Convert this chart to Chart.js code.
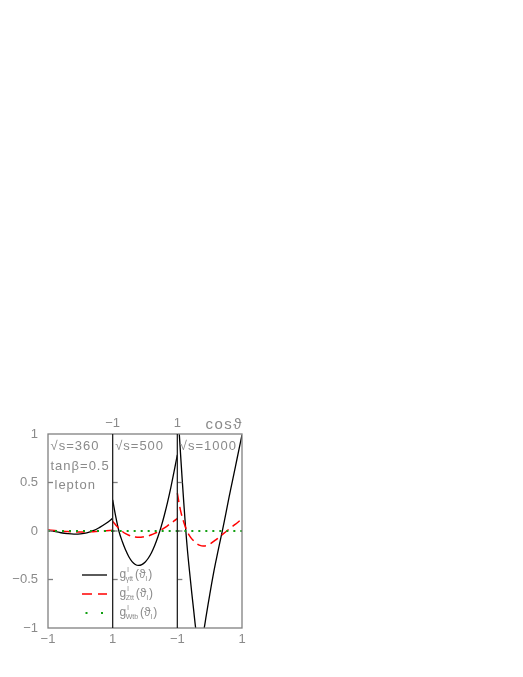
<!DOCTYPE html>
<html>
<head>
<meta charset="utf-8">
<script src="https://cdn.jsdelivr.net/npm/chart.js@4.4.1/dist/chart.umd.min.js"></script>
<style>
  html, body { margin: 0; padding: 0; background: #fff; }
  canvas { display: block; }
</style>
</head>
<body>
<canvas id="chart" width="523" height="677"></canvas>
<script>
// cos(theta) grids
const COS_COARSE = [-1, -0.8, -0.6, -0.4, -0.2, 0, 0.2, 0.4, 0.6, 0.8, 1];
const COS_FINE = [-1, -0.9, -0.8, -0.7, -0.6, -0.5, -0.4, -0.3, -0.2, -0.1, 0,
                  0.1, 0.2, 0.3, 0.4, 0.5, 0.6, 0.7, 0.8, 0.9, 1];
const COS_ENDS = [-1, 1];

// sqrt(s) = 360
const GAMMA_360 = [0.01, -0.005, -0.018, -0.027, -0.032, -0.03, -0.02, 0.003, 0.038, 0.08, 0.13];
const Z_360 = [0.01, 0.004, -0.002, -0.006, -0.009, -0.01, -0.009, -0.007, -0.003, 0.002, 0.008];
const W_360 = [0, 0];

// sqrt(s) = 500
const GAMMA_500 = [0.32, 0.14, -0.01, -0.11, -0.195, -0.265, -0.315, -0.345, -0.355, -0.347, -0.322,
                   -0.281, -0.224, -0.15, -0.06, 0.045, 0.165, 0.3, 0.45, 0.615, 0.785];
const Z_500 = [0.10, 0.06, 0.025, -0.005, -0.028, -0.044, -0.055, -0.062, -0.065, -0.063, -0.058,
               -0.05, -0.039, -0.025, -0.008, 0.011, 0.032, 0.055, 0.079, 0.104, 0.13];
const W_500 = [0, 0];

// sqrt(s) = 1000
const GAMMA_1000 = [1.33, 0.79, 0.29, -0.15, -0.49, -0.8, -1.08, -1.22, -1.06, -0.86, -0.66,
                    -0.47, -0.3, -0.14, 0.015, 0.18, 0.35, 0.51, 0.67, 0.83, 0.99];
const Z_1000 = [0.39, 0.21, 0.09, 0.0, -0.06, -0.1, -0.13, -0.148, -0.155, -0.15, -0.135,
                -0.113, -0.088, -0.062, -0.035, -0.008, 0.02, 0.046, 0.071, 0.098, 0.125];
const W_1000 = [0, 0];

const PANEL_LABELS = ['\u221As=360', '\u221As=500', '\u221As=1000'];
const Y_TICKS = [-1, -0.5, 0, 0.5, 1];
const Y_LABELS = ['\u22121', '\u22120.5', '0', '0.5', '1'];
const BOTTOM_TICKS = [0, 2, 4, 6];
const BOTTOM_LABELS = ['\u22121', '1', '\u22121', '1'];
const TOP_TICKS = [2, 4];
const TOP_LABELS = ['\u22121', '1'];
const INNER_TICKS = [-0.5, 0, 0.5];

const GRAY = '#8a8a8a';
const FONT_FAMILY = '"Liberation Sans", "DejaVu Sans", sans-serif';

// each panel spans 2 units on one shared x axis
function pts(cos, vals, panel) {
  return cos.map((c, i) => ({ x: panel * 2 + c + 1, y: vals[i] }));
}

function solid(data) {
  return { data, borderColor: '#000', borderWidth: 1.3, pointRadius: 0, tension: 0.4, order: 2 };
}
function dashed(data) {
  return { data, borderColor: '#ff0000', borderWidth: 1.5, borderDash: [9, 5], pointRadius: 0,
           tension: 0.4, order: 1 };
}
function dotted(data) {
  return { data, borderColor: '#12a012', borderWidth: 2, borderDash: [2, 5], pointRadius: 0, order: 0 };
}

const datasets = [
  solid(pts(COS_COARSE, GAMMA_360, 0)), dashed(pts(COS_COARSE, Z_360, 0)), dotted(pts(COS_ENDS, W_360, 0)),
  solid(pts(COS_FINE, GAMMA_500, 1)), dashed(pts(COS_FINE, Z_500, 1)), dotted(pts(COS_ENDS, W_500, 1)),
  solid(pts(COS_FINE, GAMMA_1000, 2)), dashed(pts(COS_FINE, Z_1000, 2)), dotted(pts(COS_ENDS, W_1000, 2))
];

function line(ctx, x1, y1, x2, y2) {
  ctx.beginPath(); ctx.moveTo(x1, y1); ctx.lineTo(x2, y2); ctx.stroke();
}

// g^l_{sub}(theta_l) with small indices
function drawG(ctx, x, y, sub) {
  ctx.textBaseline = 'alphabetic';
  ctx.textAlign = 'left';
  ctx.font = '12px ' + FONT_FAMILY;
  ctx.fillText('g', x, y);
  let cx = x + ctx.measureText('g').width;
  ctx.font = '7px ' + FONT_FAMILY;
  ctx.fillText('l', cx + 1, y - 6);
  ctx.fillText(sub, cx - 0.5, y + 3);
  cx += ctx.measureText(sub).width + 1.5;
  ctx.font = '12px ' + FONT_FAMILY;
  ctx.fillText('(\u03D1', cx, y);
  cx += ctx.measureText('(\u03D1').width;
  ctx.font = '7px ' + FONT_FAMILY;
  ctx.fillText('l', cx, y + 3);
  cx += ctx.measureText('l').width + 1;
  ctx.font = '12px ' + FONT_FAMILY;
  ctx.fillText(')', cx, y);
}

const decor = {
  id: 'decor',
  afterDatasetsDraw(chart) {
    const { ctx, chartArea: a, scales } = chart;
    const sx = scales.x, sy = scales.y;
    ctx.save();
    ctx.lineWidth = 1.3;
    ctx.strokeStyle = '#808080';
    ctx.strokeRect(a.left, a.top, a.right - a.left, a.bottom - a.top);
    // inward ticks on left edge and panel dividers
    [0, 2, 4].forEach(v => {
      const px = sx.getPixelForValue(v);
      INNER_TICKS.forEach(t => {
        const py = sy.getPixelForValue(t);
        line(ctx, px, py, px + 5, py);
      });
    });
    ctx.strokeStyle = '#222';
    [2, 4].forEach(v => {
      const px = sx.getPixelForValue(v);
      line(ctx, px, a.top, px, a.bottom);
    });

    // texts
    ctx.fillStyle = GRAY;
    ctx.letterSpacing = '1px';
    ctx.font = '13px ' + FONT_FAMILY;
    ctx.textBaseline = 'middle';
    ctx.textAlign = 'left';
    PANEL_LABELS.forEach((t, i) => {
      ctx.fillText(t, sx.getPixelForValue(i * 2) + 2.5, a.top + 12);
    });
    ctx.fillText('tan\u03B2=0.5', a.left + 2.5, a.top + 32);
    ctx.fillText('lepton', a.left + 6.5, a.top + 51);
    ctx.textAlign = 'right';
    ctx.textBaseline = 'alphabetic';
    ctx.letterSpacing = '1.5px';
    ctx.font = '15px ' + FONT_FAMILY;
    ctx.fillText('cos\u03D1', a.right + 1, a.top - 5);

    // legend
    ctx.letterSpacing = '0px';
    const lx1 = 82, lx2 = 107;
    const rows = [575, 594, 613];
    ctx.lineWidth = 1.3;
    ctx.strokeStyle = '#000';
    line(ctx, lx1, rows[0], lx2, rows[0]);
    ctx.lineWidth = 1.5;
    ctx.strokeStyle = '#ff0000';
    ctx.setLineDash([10, 6]);
    line(ctx, lx1, rows[1], lx2, rows[1]);
    ctx.setLineDash([]);
    ctx.fillStyle = '#12a012';
    [86.5, 102].forEach(dx => ctx.fillRect(dx - 1, rows[2] - 1, 2, 2));
    ctx.fillStyle = GRAY;
    drawG(ctx, 119.5, rows[0] + 3, '\u03B3tt');
    drawG(ctx, 119.5, rows[1] + 3, 'Ztt');
    drawG(ctx, 119.5, rows[2] + 3, 'Wtb');
    ctx.restore();
  }
};

new Chart(document.getElementById('chart'), {
  type: 'line',
  data: { datasets },
  options: {
    responsive: false,
    animation: false,
    devicePixelRatio: 1,
    layout: { padding: { left: 0, right: 281, top: 0, bottom: 0 } },
    plugins: { legend: { display: false }, tooltip: { enabled: false } },
    scales: {
      x: {
        type: 'linear', position: 'bottom', min: 0, max: 6,
        grid: { display: false, drawTicks: false }, border: { display: false },
        afterBuildTicks: s => { s.ticks = BOTTOM_TICKS.map(v => ({ value: v })); },
        afterFit: s => { s.height = 49; },
        ticks: {
          padding: 4, color: GRAY, maxRotation: 0, autoSkip: false,
          font: { family: FONT_FAMILY, size: 13 },
          callback: (v) => BOTTOM_LABELS[BOTTOM_TICKS.indexOf(v)]
        }
      },
      xTop: {
        type: 'linear', position: 'top', axis: 'x', min: 0, max: 6,
        grid: { display: false, drawTicks: false }, border: { display: false },
        afterBuildTicks: s => { s.ticks = TOP_TICKS.map(v => ({ value: v })); },
        afterFit: s => { s.height = 434; },
        ticks: {
          padding: 3, color: GRAY, maxRotation: 0, autoSkip: false,
          font: { family: FONT_FAMILY, size: 13 },
          callback: (v) => TOP_LABELS[TOP_TICKS.indexOf(v)]
        }
      },
      y: {
        min: -1, max: 1,
        grid: { display: false, drawTicks: false }, border: { display: false },
        afterBuildTicks: s => { s.ticks = Y_TICKS.map(v => ({ value: v })); },
        afterFit: s => { s.width = 48; },
        ticks: {
          padding: 10, color: GRAY, autoSkip: false,
          font: { family: FONT_FAMILY, size: 13 },
          callback: (v) => Y_LABELS[Y_TICKS.indexOf(v)]
        }
      }
    }
  },
  plugins: [decor]
});
</script>
</body>
</html>
